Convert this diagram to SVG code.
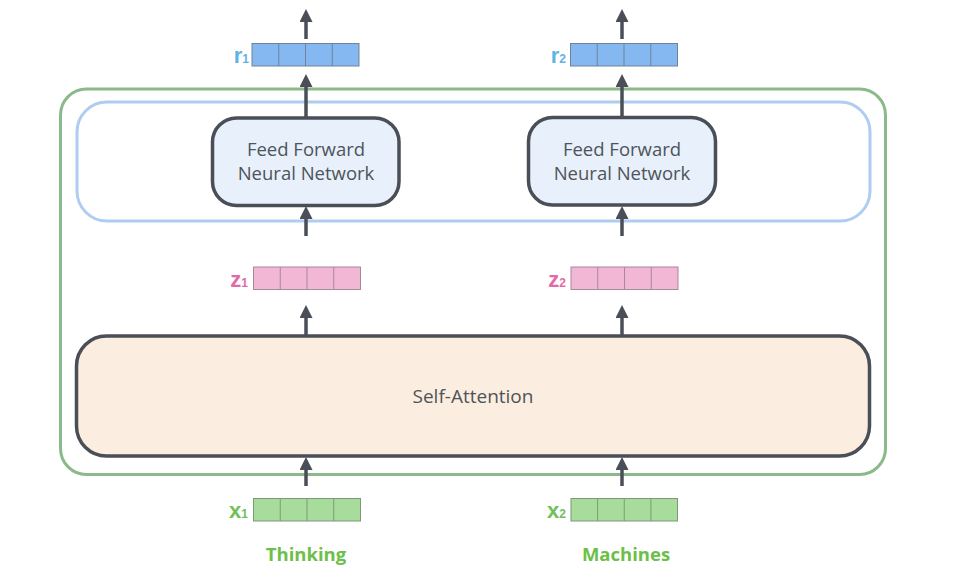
<svg xmlns="http://www.w3.org/2000/svg" width="954" height="574" viewBox="0 0 954 574">
  <style>
    .outer { fill: none; stroke: #8bb98a; stroke-width: 3; }
    .layer { fill: none; stroke: #aecdf0; stroke-width: 3; }
    .ffn { fill: #e7f0fb; stroke: #4a4f57; stroke-width: 3.5; }
    .sa { fill: #fbeddf; stroke: #4a4f57; stroke-width: 3.5; }
    .box-text { font-family: "Open Sans", "DejaVu Sans", sans-serif; font-size: 18.5px; font-weight: 500; fill: #4f545a; text-anchor: middle; }
    .sa-text { font-size: 19px; }
    .conn { stroke: #4a4f57; stroke-width: 3.5; fill: none; marker-end: url(#head); }
    .vr rect { fill: #85b8f0; stroke: #6f8399; stroke-width: 1; }
    .vz rect { fill: #f2b7d5; stroke: #a7899a; stroke-width: 1; }
    .vx rect { fill: #a8dc9c; stroke: #7d9a77; stroke-width: 1; }
    .cell { fill: none; stroke-width: 1; }
    .vr .cell { stroke: #6f8399; }
    .vz .cell { stroke: #a7899a; }
    .vx .cell { stroke: #7d9a77; }
    .lbl { font-family: "Liberation Sans", Arial, sans-serif; font-weight: bold; font-size: 22px; text-anchor: end; }
    .sub { font-size: 12px; }
    .lr { fill: #61b3e3; }
    .lz { fill: #e26aa6; }
    .lx { fill: #70c05a; }
    .word { font-family: "Open Sans", "DejaVu Sans", sans-serif; font-weight: bold; font-size: 18.5px; fill: #6cc04a; text-anchor: middle; }
  </style>
  <defs>
    <marker id="head" markerUnits="userSpaceOnUse" markerWidth="14" markerHeight="14" refX="3" refY="6.5" orient="auto">
      <path d="M0,0 L13,6.5 L0,13 z" fill="#4a4f57"/>
    </marker>
  </defs>
  <rect width="954" height="574" fill="#ffffff"/>

  <g id="encoder">
    <rect class="outer" x="60.5" y="89" width="825" height="385.5" rx="26" ry="26"/>
  </g>
  <g id="ffn-layer">
    <rect class="layer" x="77" y="102" width="793" height="119" rx="30" ry="30"/>
  </g>

  <g id="connectors">
    <line class="conn" x1="306" y1="39" x2="306" y2="19"/>
    <line class="conn" x1="306" y1="118" x2="306" y2="84"/>
    <line class="conn" x1="306" y1="236" x2="306" y2="216"/>
    <line class="conn" x1="306" y1="336" x2="306" y2="315"/>
    <line class="conn" x1="306" y1="486" x2="306" y2="467"/>
    <line class="conn" x1="622" y1="39" x2="622" y2="19"/>
    <line class="conn" x1="622" y1="118" x2="622" y2="84"/>
    <line class="conn" x1="622" y1="236" x2="622" y2="216"/>
    <line class="conn" x1="622" y1="336" x2="622" y2="315"/>
    <line class="conn" x1="622" y1="486" x2="622" y2="467"/>
  </g>

  <g id="ffn1">
    <rect class="ffn" x="212.5" y="118" width="186.5" height="87.5" rx="24" ry="24"/>
    <text class="box-text" x="306" y="156">Feed Forward</text>
    <text class="box-text" x="306" y="180">Neural Network</text>
  </g>
  <g id="ffn2">
    <rect class="ffn" x="528.5" y="117.5" width="187" height="87.5" rx="24" ry="24"/>
    <text class="box-text" x="622" y="156">Feed Forward</text>
    <text class="box-text" x="622" y="180">Neural Network</text>
  </g>

  <g id="self-attention">
    <rect class="sa" x="76.5" y="336" width="793" height="120" rx="30" ry="30"/>
    <text class="box-text sa-text" x="473" y="403">Self-Attention</text>
  </g>

  <g id="r1" class="vr">
    <rect x="252" y="43.5" width="107" height="22.5"/>
    <path class="cell" d="M278.75,43.5 V66 M305.5,43.5 V66 M332.25,43.5 V66"/>
    <text class="lbl lr" x="249" y="63">r<tspan class="sub">1</tspan></text>
  </g>
  <g id="r2" class="vr">
    <rect x="570.5" y="43.5" width="107" height="22.5"/>
    <path class="cell" d="M597.25,43.5 V66 M624,43.5 V66 M650.75,43.5 V66"/>
    <text class="lbl lr" x="566" y="63">r<tspan class="sub">2</tspan></text>
  </g>

  <g id="z1" class="vz">
    <rect x="253.5" y="267" width="107" height="22.5"/>
    <path class="cell" d="M280.25,267 V289.5 M307,267 V289.5 M333.75,267 V289.5"/>
    <text class="lbl lz" x="248" y="286.5">z<tspan class="sub">1</tspan></text>
  </g>
  <g id="z2" class="vz">
    <rect x="571" y="267" width="107" height="22.5"/>
    <path class="cell" d="M597.75,267 V289.5 M624.5,267 V289.5 M651.25,267 V289.5"/>
    <text class="lbl lz" x="566" y="286.5">z<tspan class="sub">2</tspan></text>
  </g>

  <g id="x1" class="vx">
    <rect x="253.5" y="498.5" width="107" height="22.5"/>
    <path class="cell" d="M280.25,498.5 V521 M307,498.5 V521 M333.75,498.5 V521"/>
    <text class="lbl lx" x="248" y="517.5">x<tspan class="sub">1</tspan></text>
  </g>
  <g id="x2" class="vx">
    <rect x="571" y="498.5" width="106.5" height="22.5"/>
    <path class="cell" d="M597.6,498.5 V521 M624.25,498.5 V521 M650.9,498.5 V521"/>
    <text class="lbl lx" x="566" y="517.5">x<tspan class="sub">2</tspan></text>
  </g>

  <g id="word-thinking">
    <text class="word" x="306" y="561">Thinking</text>
  </g>
  <g id="word-machines">
    <text class="word" x="626" y="561">Machines</text>
  </g>
</svg>
